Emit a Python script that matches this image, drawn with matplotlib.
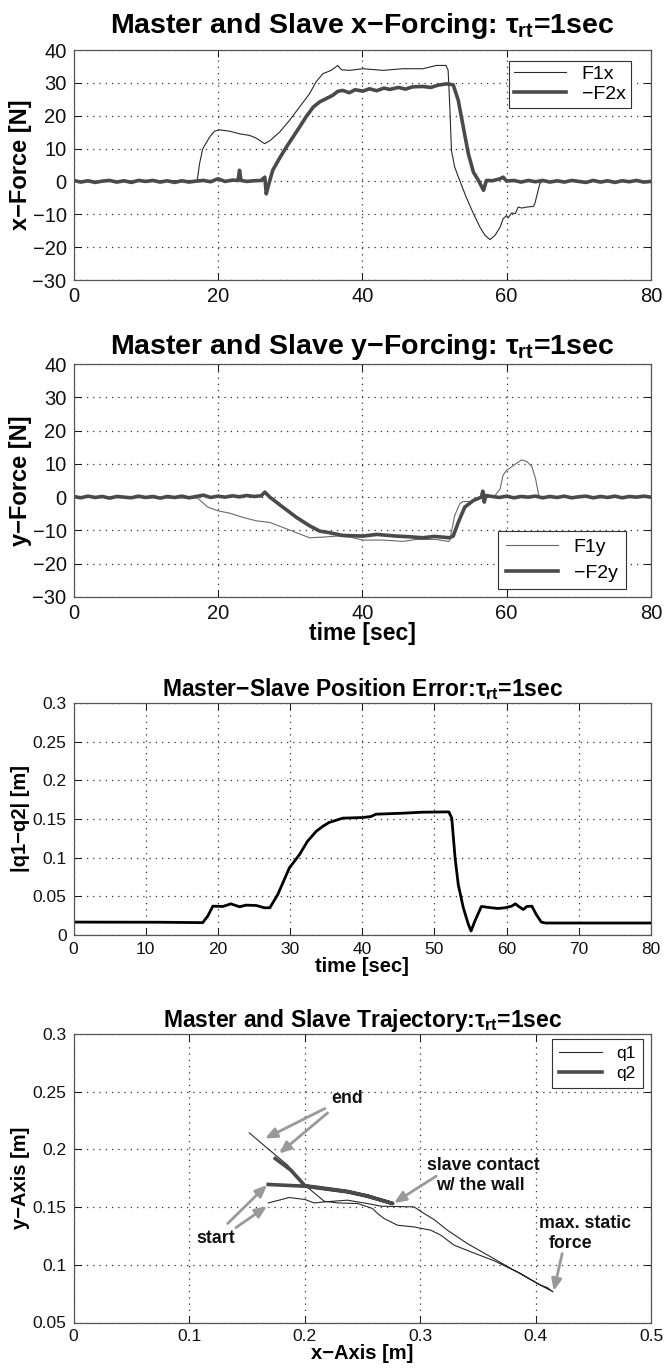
import matplotlib
matplotlib.use("Agg")
import matplotlib.pyplot as plt
from matplotlib.ticker import FixedLocator, FixedFormatter

plt.rcParams['font.family'] = ['Liberation Sans', 'DejaVu Sans']
plt.rcParams['mathtext.fontset'] = 'custom'
plt.rcParams['mathtext.rm'] = 'Liberation Sans:bold'
plt.rcParams['mathtext.it'] = 'Liberation Sans:bold'
plt.rcParams['mathtext.bf'] = 'Liberation Sans:bold'
plt.rcParams['axes.unicode_minus'] = True

# ---------------- data ----------------
f1x_t = [0, 17.14, 17.46, 17.9, 18.85, 19.54, 20.23, 21.6, 23.0, 24.4, 25.3, 26.47, 27.16, 28.55, 29.93,
         31.3, 32.7, 33.6, 34.55, 35.7, 36.6, 37.1, 38.2, 40.1, 42.9, 45.6, 48.4, 50.25, 51.6, 51.9, 52.13,
         52.36, 52.8, 53.5, 54.4, 55.4, 56.3, 57.0, 57.7, 58.4, 59.1, 59.5, 60.0, 60.2, 60.7, 61.2, 61.6,
         62.1, 62.8, 63.7, 63.9, 64.6, 64.9, 80]
f1x_v = [0, 0.3, 5.4, 9.9, 13.5, 15.3, 15.7, 15.3, 14.5, 14.0, 13.2, 11.5, 12.3, 15.0, 18.6,
         22.6, 26.7, 30.3, 32.8, 33.8, 35.3, 34.0, 33.8, 34.3, 33.8, 34.3, 34.3, 35.3, 35.3, 33.8, 22.6,
         9.4, 4.4, 0.3, -4.8, -9.8, -13.9, -16.4, -17.7, -16.4, -13.9, -11.4, -10.4, -11.1, -9.6, -9.8, -7.8,
         -8.1, -7.8, -7.6, -6.8, -0.7, 0, 0]

f2x_t = [0, 1, 2, 3, 4, 5, 6, 7, 8, 9, 10, 11, 12, 13, 14, 15, 16, 17, 18, 19, 20, 21, 22, 22.8, 23.0,
         23.2, 24, 25, 26, 26.5, 26.7, 27.07, 27.6, 28.5, 29.5, 30.4, 31.3, 32.2, 33.2, 34.1, 35.0, 35.9,
         36.6, 37.3, 38.2, 39.0, 40.1, 41.0, 42.0, 43.0, 43.8, 45.0, 46.0, 47.0, 48.4, 49.5, 50.5, 51.7,
         52.6, 53.3, 54.0, 54.7, 55.4, 56.1, 56.8, 57.2, 58, 59.1, 59.5, 60, 61, 62, 63, 64, 65, 66, 67, 68,
         69, 70, 71, 72, 73, 74, 75, 76, 77, 78, 79, 80]
f2x_v = [0.3, -0.2, 0.2, -0.3, 0.1, 0.3, -0.2, 0.2, -0.3, 0.3, 0.0, 0.3, -0.2, 0.2, -0.3, 0.2, -0.2, 0.1,
         0.3, -0.1, 0.8, 0.0, 0.4, 0.3, 3.4, 0.3, 0.0, 0.2, 0.3, 1.3, -3.8, -0.7, 3.4, 6.9, 10.5, 13.5, 16.5,
         19.6, 22.6, 24.2, 25.2, 26.2, 27.4, 27.7, 27.0, 27.9, 27.5, 28.2, 27.6, 28.4, 28.0, 28.6, 28.1,
         28.8, 28.9, 28.6, 29.3, 29.7, 29.4, 24.7, 16.5, 8.4, 2.8, 0.3, -2.7, 0.3, 0.2, 0.8, 1.3, 0.1, 0.3,
         -0.2, 0.3, -0.1, 0.3, -0.2, 0.2, -0.2, 0.3, 0.0, -0.3, 0.3, -0.2, 0.2, -0.3, 0.2, -0.1, 0.3, -0.2, 0.0]

f1y_t = [0, 17.2, 18.6, 20, 21.6, 23.5, 25.3, 27.2, 29.0, 30.9, 32.7, 34.6, 36.5, 38.3, 40.1, 42.9, 45.6,
         47.5, 50.25, 51.9, 52.1, 52.8, 53.5, 54.0, 54.9, 55.8, 58.4, 59.1, 59.5, 60.0, 60.7, 61.4, 62.1,
         62.8, 63.5, 64.0, 64.5, 80]
f1y_v = [0, -0.3, -3.0, -4.1, -4.8, -6.1, -7.1, -7.6, -9.1, -10.7, -12.2, -12.0, -11.7, -12.0, -12.9,
         -12.9, -13.3, -12.7, -12.7, -13.3, -13.2, -5.6, -2.0, -1.3, -1.3, -0.5, 0.5, 2.5, 6.6, 8.1, 9.1,
         10.2, 11.2, 10.7, 9.1, 5.6, 0, 0]

f2y_t = [0, 1, 2, 3, 4, 5, 6, 7, 8, 9, 10, 11, 12, 13, 14, 15, 16, 17, 18, 19, 20, 21, 22, 23, 24, 25, 26,
         26.5, 27.2, 29.0, 30.9, 32.7, 34.1, 35.5, 37.3, 40.1, 42.0, 44.7, 46.5, 48.4, 50.0, 52.1, 52.6,
         53.3, 54.2, 55.4, 56.5, 56.7, 56.9, 57.1, 58, 59, 60, 61, 62, 63, 64, 65, 66, 67, 68, 69, 70, 71,
         72, 73, 74, 75, 76, 77, 78, 79, 80]
f2y_v = [0.2, -0.2, 0.3, -0.1, 0.2, -0.3, 0.2, 0.0, -0.2, 0.3, -0.1, 0.2, -0.3, 0.2, -0.1, 0.3, -0.2, 0.2,
         0.6, -0.1, 0.3, 0.0, 0.4, 0.1, 0.5, 0.2, 0.4, 1.5, 0.0, -3.0, -6.1, -8.6, -10.2, -10.7, -11.5,
         -11.7, -11.2, -11.7, -11.9, -12.2, -11.8, -12.2, -11.7, -7.6, -3.0, -1.0, 0.0, 1.8, -1.5, 0.5, 0.2,
         -0.1, 0.3, -0.2, 0.2, 0.0, 0.3, -0.2, 0.2, -0.1, 0.3, -0.2, 0.1, 0.3, -0.2, 0.2, -0.1, 0.3, -0.2,
         0.2, 0.0, 0.3, 0.0]

err_t = [0, 12, 17.9, 18.6, 19.3, 20.7, 21.8, 23.0, 23.9, 25.3, 26.45, 27.2, 28.3, 29.9, 31.3, 32.4, 33.6,
         34.5, 35.4, 37.3, 40.0, 41.2, 41.9, 45.6, 48.3, 52.0, 52.4, 52.86, 53.3, 54.0, 54.7, 55.07, 55.6,
         56.5, 57.9, 58.8, 59.8, 60.7, 61.2, 61.8, 62.3, 62.8, 63.5, 64.1, 64.8, 65.4, 80]
err_v = [0.0167, 0.0165, 0.0160, 0.0245, 0.0373, 0.0369, 0.0403, 0.0365, 0.0386, 0.0382, 0.0352, 0.0352,
         0.0524, 0.0867, 0.1039, 0.121, 0.1339, 0.1403, 0.1455, 0.1511, 0.1519, 0.1532, 0.1562, 0.1575,
         0.1588, 0.1592, 0.151, 0.0996, 0.0652, 0.0352, 0.0137, 0.0052, 0.018, 0.0369, 0.0352, 0.0343,
         0.0352, 0.0373, 0.0403, 0.0361, 0.033, 0.0369, 0.0373, 0.0266, 0.0167, 0.0155, 0.0155]

q1_x = [0.1686, 0.1868, 0.2003, 0.2084, 0.217, 0.2372, 0.2545, 0.266, 0.2948, 0.3035, 0.3122, 0.3237,
        0.341, 0.3612, 0.3813, 0.4015, 0.4153, 0.4102, 0.4044, 0.3871, 0.3641, 0.3439, 0.3295, 0.318,
        0.3093, 0.2948, 0.2805, 0.2689, 0.2632, 0.2589, 0.2459, 0.2286, 0.217, 0.2003, 0.1854, 0.1681,
        0.1522]
q1_y = [0.1536, 0.1583, 0.1566, 0.1536, 0.1545, 0.156, 0.1531, 0.1508, 0.1502, 0.1445, 0.1392, 0.13,
        0.1184, 0.1069, 0.0953, 0.0838, 0.0765, 0.0803, 0.0824, 0.0925, 0.1035, 0.1113, 0.117, 0.1257,
        0.13, 0.1328, 0.1343, 0.1401, 0.1445, 0.1488, 0.1531, 0.1536, 0.1551, 0.169, 0.1863, 0.2008,
        0.2143]

q2_x = [0.1686, 0.2003, 0.2372, 0.2545, 0.2764, 0.2545, 0.2372, 0.2003, 0.1882, 0.1747]
q2_y = [0.1696, 0.1681, 0.1632, 0.1594, 0.1531, 0.1597, 0.1636, 0.1686, 0.182, 0.1921]

force_xticks = [0, 20, 40, 60, 80]
force_yticks = [-30, -20, -10, 0, 10, 20, 30, 40]
err_xticks = [0, 10, 20, 30, 40, 50, 60, 70, 80]
err_yticks = [0, 0.05, 0.1, 0.15, 0.2, 0.25, 0.3]
err_ylabels = ['0', '0.05', '0.1', '0.15', '0.2', '0.25', '0.3']
traj_xticks = [0, 0.1, 0.2, 0.3, 0.4, 0.5]
traj_xlabels = ['0', '0.1', '0.2', '0.3', '0.4', '0.5']
traj_yticks = [0.05, 0.1, 0.15, 0.2, 0.25, 0.3]
traj_ylabels = ['0.05', '0.1', '0.15', '0.2', '0.25', '0.3']

# ---------------- figure ----------------
W, H = 665, 1369
fig = plt.figure(figsize=(W / 100, H / 100), dpi=100)

AX_L, AX_R = 73.5, 651.0


def axes_px(top, bottom):
    return fig.add_axes([AX_L / W, 1 - bottom / H, (AX_R - AX_L) / W, (bottom - top) / H])


def style(ax, fs):
    ax.grid(True, linestyle=(0, (1, 4)), color='#333333', linewidth=0.9)
    ax.tick_params(direction='in', length=5, width=0.7, top=True, right=True,
                   labelsize=fs, pad=5, colors='#111111')
    for s in ax.spines.values():
        s.set_color('#555555')
        s.set_linewidth(0.9)


def legend_px(ax, loc, x_px, y_px, fs, spacing, bpad, hlen):
    # anchor point given in figure pixels
    l, b, w, h = ax.get_position().bounds
    ax_top_px = (1 - (b + h)) * H
    ax_bot_px = (1 - b) * H
    fx = (x_px - AX_L) / (AX_R - AX_L)
    fy = (ax_bot_px - y_px) / (ax_bot_px - ax_top_px)
    lg = ax.legend(loc=loc, bbox_to_anchor=(fx, fy), fontsize=fs, handlelength=hlen,
                   handletextpad=0.8, labelspacing=spacing, borderpad=bpad, borderaxespad=0,
                   fancybox=False, edgecolor='#333333', framealpha=1)
    lg.get_frame().set_linewidth(0.8)
    return lg


thin_col = '#2a2a2a'
thick_col = '#4a4a4a'

# Panel 1
ax1 = axes_px(50, 280)
ax1.plot(f1x_t, f1x_v, color=thin_col, lw=0.8, label='F1x')
ax1.plot(f2x_t, f2x_v, color=thick_col, lw=2.6, label='\u2212F2x')
ax1.set_xlim(0, 80)
ax1.set_ylim(-30, 40)
ax1.set_xticks(force_xticks)
ax1.set_yticks(force_yticks)
style(ax1, 14.5)
ax1.set_title('Master and Slave x\u2212Forcing: $\\tau_{rt}$=1sec', fontsize=20.5, fontweight='bold', pad=12)
ax1.set_ylabel('x\u2212Force [N]', fontsize=17, fontweight='bold', labelpad=0)
legend_px(ax1, 'upper right', 630.6, 60.7, 14, 0.1, 0.25, 2.7)

# Panel 2
ax2 = axes_px(364, 597)
ax2.plot(f1y_t, f1y_v, color='#6a6a6a', lw=0.8, label='F1y')
ax2.plot(f2y_t, f2y_v, color=thick_col, lw=2.6, label='\u2212F2y')
ax2.set_xlim(0, 80)
ax2.set_ylim(-30, 40)
ax2.set_xticks(force_xticks)
ax2.set_yticks(force_yticks)
style(ax2, 14.5)
ax2.set_title('Master and Slave y\u2212Forcing: $\\tau_{rt}$=1sec', fontsize=20.5, fontweight='bold', pad=7)
ax2.set_ylabel('y\u2212Force [N]', fontsize=17, fontweight='bold', labelpad=0)
ax2.set_xlabel('time [sec]', fontsize=16.5, fontweight='bold', labelpad=-1)
legend_px(ax2, 'lower right', 625.5, 589.3, 14, 0.4, 0.4, 2.7)

# Panel 3
ax3 = axes_px(703, 935)
ax3.plot(err_t, err_v, color='black', lw=2.0)
ax3.set_xlim(0, 80)
ax3.set_ylim(0, 0.3)
ax3.xaxis.set_major_locator(FixedLocator(err_xticks))
ax3.yaxis.set_major_locator(FixedLocator(err_yticks))
ax3.yaxis.set_major_formatter(FixedFormatter(err_ylabels))
style(ax3, 12.5)
ax3.set_title('Master\u2212Slave Position Error:$\\tau_{rt}$=1sec', fontsize=16.5, fontweight='bold', pad=5)
ax3.set_ylabel('|q1\u2212q2| [m]', fontsize=14.5, fontweight='bold', labelpad=2)
ax3.set_xlabel('time [sec]', fontsize=14.5, fontweight='bold', labelpad=0)

# Panel 4
ax4 = axes_px(1034, 1322.5)
ax4.plot(q1_x, q1_y, color=thin_col, lw=0.8, label='q1')
ax4.plot(q2_x, q2_y, color=thick_col, lw=2.6, label='q2')
ax4.set_xlim(0, 0.5)
ax4.set_ylim(0.05, 0.3)
ax4.xaxis.set_major_locator(FixedLocator(traj_xticks))
ax4.xaxis.set_major_formatter(FixedFormatter(traj_xlabels))
ax4.yaxis.set_major_locator(FixedLocator(traj_yticks))
ax4.yaxis.set_major_formatter(FixedFormatter(traj_ylabels))
style(ax4, 12.5)
ax4.set_title('Master and Slave Trajectory:$\\tau_{rt}$=1sec', fontsize=16.5, fontweight='bold', pad=5)
ax4.set_ylabel('y\u2212Axis [m]', fontsize=14.5, fontweight='bold', labelpad=2)
ax4.set_xlabel('x\u2212Axis [m]', fontsize=14.5, fontweight='bold', labelpad=0)
legend_px(ax4, 'upper right', 642.5, 1039, 12.5, 0.3, 0.4, 2.5)

arrow_kw = dict(arrowstyle='-|>,head_length=0.7,head_width=0.3', color='#999999', lw=2.0,
                shrinkA=0, shrinkB=0)
arrows = [((0.1658, 0.2094), (0.2176, 0.2354)),
          ((0.1781, 0.1964), (0.2200, 0.2316)),
          ((0.1675, 0.1692), (0.1335, 0.1358)),
          ((0.1675, 0.1508), (0.1407, 0.1323)),
          ((0.2775, 0.1536), (0.3140, 0.1768)),
          ((0.4158, 0.0774), (0.4231, 0.1098))]
for head, tail in arrows:
    ax4.annotate('', xy=head, xytext=tail, arrowprops=arrow_kw)

tkw = dict(fontsize=12.8, fontweight='bold', ha='center', va='center', color='#111111')
ax4.text(0.2373, 0.2441, 'end', **tkw)
ax4.text(0.1234, 0.1228, 'start', **tkw)
ax4.text(0.3553, 0.1863, 'slave contact', **tkw)
ax4.text(0.3525, 0.1689, 'w/ the wall', **tkw)
ax4.text(0.4428, 0.1358, 'max. static', **tkw)
ax4.text(0.4303, 0.1185, 'force', **tkw)

fig.savefig('out.png', dpi=100)
